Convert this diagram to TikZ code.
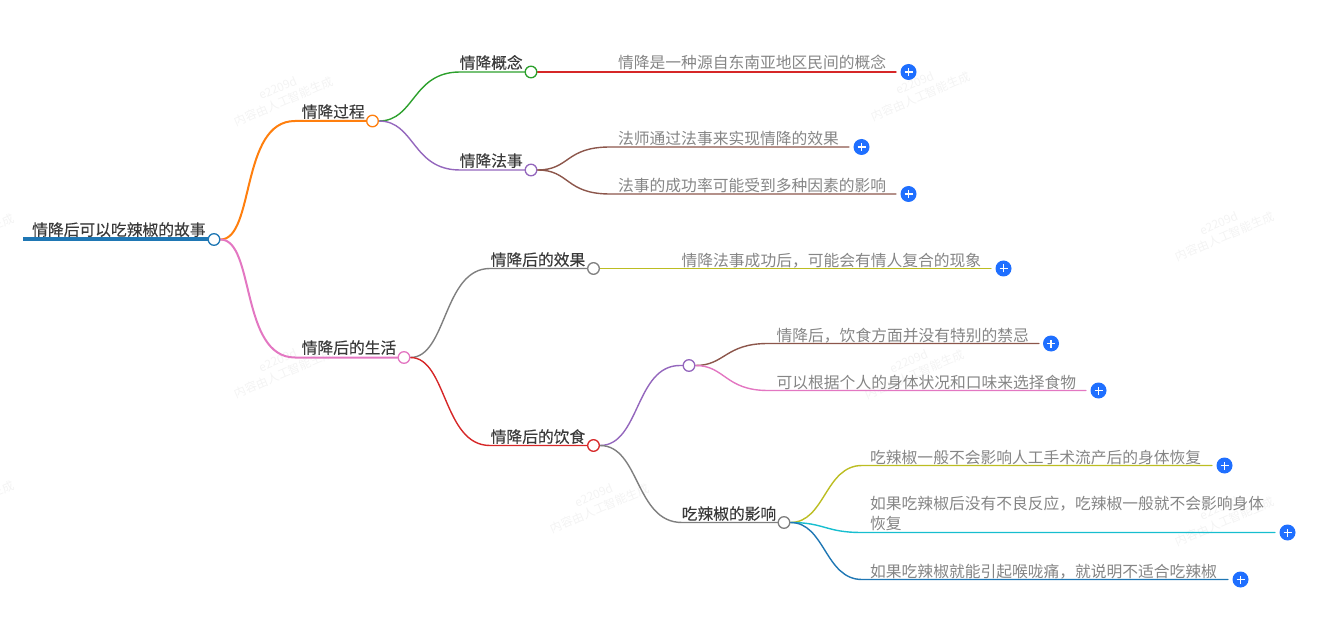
\documentclass[tikz,border=0pt]{standalone}
\usepackage{fontspec}
\usetikzlibrary{backgrounds}
\setmainfont{Noto Sans CJK SC}
\newfontfamily\headfont{Noto Sans CJK SC}[FakeBold=0.22]
\definecolor{cBlue}{HTML}{1F77B4}
\definecolor{cOrange}{HTML}{FF7F0E}
\definecolor{cGreen}{HTML}{2CA02C}
\definecolor{cRed}{HTML}{D62728}
\definecolor{cPurple}{HTML}{9467BD}
\definecolor{cBrown}{HTML}{8C564B}
\definecolor{cPink}{HTML}{E377C2}
\definecolor{cGray}{HTML}{7F7F7F}
\definecolor{cOlive}{HTML}{BCBD22}
\definecolor{cCyan}{HTML}{17BECF}
\definecolor{cPlus}{HTML}{1F6FFF}
\definecolor{cText}{HTML}{3A3A3A}
\definecolor{cLeaf}{HTML}{858585}
\definecolor{cWm}{HTML}{F3F3F3}
\tikzset{
  px/.style={x=1pt,y=-1pt},
  edge/.style={line width=1.4pt,line cap=round},
  mainedge/.style={line width=2pt,line cap=round},
  dot/.style={circle,draw,fill=white,line width=1.3pt,inner sep=0pt,minimum size=11.6pt},
  plusdot/.style={circle,fill=cPlus,inner sep=0pt,minimum size=16pt},
  headtext/.style={anchor=base west,yshift=-0.6pt,inner sep=0pt,text=cText,font=\headfont\fontsize{15.76}{15.76}\selectfont},
  leaftext/.style={anchor=base west,yshift=-0.9pt,inner sep=0pt,text=cLeaf,font=\fontsize{15.76}{15.76}\selectfont},
  wm/.style={rotate=23,text=cWm,align=center,inner sep=0pt,font=\fontsize{11.8}{14.5}\selectfont}
}
\newcommand{\plusmark}[1]{\draw[white,line width=1.5pt] ([xshift=-4pt]#1.center) -- ([xshift=4pt]#1.center) ([yshift=-4pt]#1.center) -- ([yshift=4pt]#1.center);}
\begin{document}
\begin{tikzpicture}[px]
\useasboundingbox (0,0) rectangle (1344,620);
% nodes
\coordinate (rs) at (23,239.5);
\node[dot,draw=cBlue] (root) at (214,239.5) {};
\node[dot,draw=cOrange] (n1) at (372.5,121) {};
\node[dot,draw=cPink] (n2) at (404,357.5) {};
\node[dot,draw=cGreen] (n11) at (531,72) {};
\node[dot,draw=cPurple] (n12) at (531,170) {};
\node[dot,draw=cGray] (n21) at (593.5,268.5) {};
\node[dot,draw=cRed] (n22) at (593.5,445.5) {};
\node[dot,draw=cPurple] (n221) at (689,365.5) {};
\node[dot,draw=cGray] (n222) at (784,522.5) {};
\node[plusdot] (p1) at (908.5,72) {};
\node[plusdot] (p2) at (861.5,147) {};
\node[plusdot] (p3) at (908.5,194) {};
\node[plusdot] (p4) at (1003.5,268.5) {};
\node[plusdot] (p5) at (1051,343.5) {};
\node[plusdot] (p6) at (1098.5,390.5) {};
\node[plusdot] (p7) at (1224.5,465.5) {};
\node[plusdot] (p8) at (1287.5,532.5) {};
\node[plusdot] (p9) at (1240.5,579.5) {};
\foreach \p in {p1,p2,p3,p4,p5,p6,p7,p8,p9} {\plusmark{\p}}
\coordinate (e1) at (896,72);
\coordinate (e2) at (849,147);
\coordinate (e3) at (896,194);
\coordinate (e4) at (991,268.5);
\coordinate (e5) at (1039,343.5);
\coordinate (e6) at (1086,390.5);
\coordinate (e7) at (1212,465.5);
\coordinate (e8) at (1275,532.5);
\coordinate (e9) at (1228,579.5);
% watermarks and edges behind the nodes
\begin{pgfonlayer}{background}
\foreach \i/\x/\y in {a/281/95,b/918/90,c/1222/230,d/912/368,e/281/367,f/597/502,g/1222/515,h/-38/232,i/-38/499}
  \node[wm] (wm\i) at (\x,\y) {e2209d\\内容由人工智能生成};
\draw[cBlue,line width=4pt] (rs) -- (root.west);
\draw[mainedge,cOrange] (root.east) .. controls (255,239.5) and (240,121) .. (295,121) -- (n1.west);
\draw[mainedge,cPink] (root.east) .. controls (255,239.5) and (240,357.5) .. (295,357.5) -- (n2.west);
\draw[edge,cGreen] (n1.east) .. controls (415,121) and (412,72) .. (460,72) -- (n11.west);
\draw[edge,cPurple] (n1.east) .. controls (415,121) and (412,170) .. (460,170) -- (n12.west);
\draw[edge,cRed] (n11.east) -- (e1);
\draw[edge,cBrown] (n12.east) .. controls (570,170) and (565,147) .. (610,147) -- (e2);
\draw[edge,cBrown] (n12.east) .. controls (570,170) and (565,194) .. (610,194) -- (e3);
\draw[edge,cGray] (n2.east) .. controls (447,357.5) and (443,268.5) .. (490,268.5) -- (n21.west);
\draw[edge,cRed] (n2.east) .. controls (447,357.5) and (443,445.5) .. (490,445.5) -- (n22.west);
\draw[edge,cOlive] (n21.east) -- (e4);
\draw[edge,cPurple] (n22.east) .. controls (640,445.5) and (635,365.5) .. (680,365.5) -- (n221.west);
\draw[edge,cGray] (n22.east) .. controls (640,445.5) and (635,522.5) .. (682,522.5) -- (n222.west);
\draw[edge,cBrown] (n221.east) .. controls (725,365.5) and (725,343.5) .. (768,343.5) -- (e5);
\draw[edge,cPink] (n221.east) .. controls (725,365.5) and (725,390.5) .. (768,390.5) -- (e6);
\draw[edge,cOlive] (n222.east) .. controls (825,522.5) and (825,465.5) .. (862,465.5) -- (e7);
\draw[edge,cCyan] (n222.east) .. controls (825,522.5) and (825,532.5) .. (862,532.5) -- (e8);
\draw[edge,cBlue] (n222.east) .. controls (825,522.5) and (825,579.5) .. (862,579.5) -- (e9);
\end{pgfonlayer}
% heads
\node[headtext] (t0) at (32,235) {情降后可以吃辣椒的故事};
\node[headtext] (t1) at (301.5,117) {情降过程};
\node[headtext] (t2) at (301.5,353) {情降后的生活};
\node[headtext] (t11) at (459.5,68) {情降概念};
\node[headtext] (t12) at (459.5,166) {情降法事};
\node[headtext] (t21) at (490.5,265) {情降后的效果};
\node[headtext] (t22) at (490.5,442) {情降后的饮食};
\node[headtext] (t222) at (681.5,519) {吃辣椒的影响};
% leaves
\node[leaftext] (l1) at (618,68) {情降是一种源自东南亚地区民间的概念};
\node[leaftext] (l2) at (618,144) {法师通过法事来实现情降的效果};
\node[leaftext] (l3) at (618,191) {法事的成功率可能受到多种因素的影响};
\node[leaftext] (l4) at (681.5,266) {情降法事成功后，可能会有情人复合的现象};
\node[leaftext] (l5) at (776.5,341) {情降后，饮食方面并没有特别的禁忌};
\node[leaftext] (l6) at (776.5,387.5) {可以根据个人的身体状况和口味来选择食物};
\node[leaftext] (l7) at (870,463) {吃辣椒一般不会影响人工手术流产后的身体恢复};
\node[leaftext] (l8) at (870,509) {如果吃辣椒后没有不良反应，吃辣椒一般就不会影响身体};
\node[leaftext] (l8b) at (870,529) {恢复};
\node[leaftext] (l9) at (870,577) {如果吃辣椒就能引起喉咙痛，就说明不适合吃辣椒};
\end{tikzpicture}
\end{document}
